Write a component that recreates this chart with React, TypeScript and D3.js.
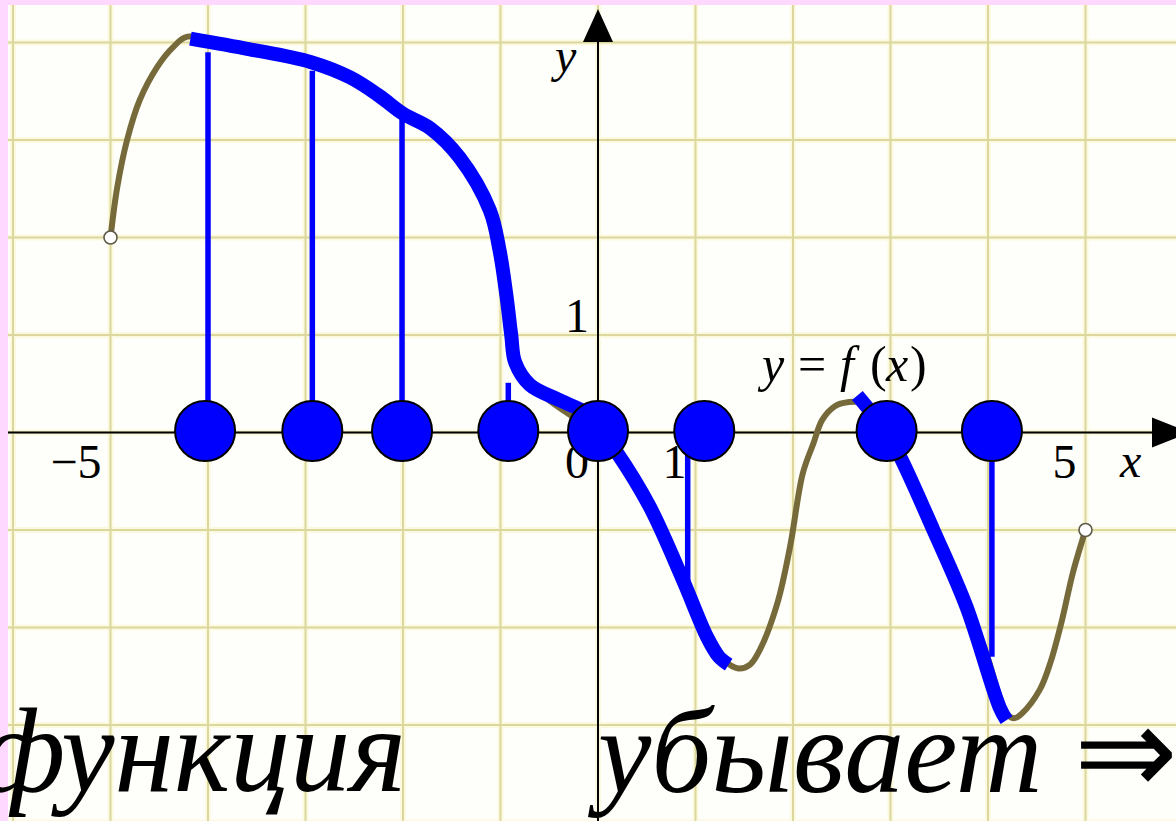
import React from "react";
import * as d3 from "d3";

// graph of y = f(x) (data units)
const curveF: [number, number][] = [
  [-5.0, 2.0], [-4.93, 2.52], [-4.83, 3.0], [-4.7, 3.41], [-4.52, 3.75], [-4.36, 3.95], [-4.21, 4.06],
  [-3.57, 3.93], [-2.95, 3.8], [-2.54, 3.64], [-2.24, 3.45], [-2.0, 3.28], [-1.72, 3.13], [-1.42, 2.82],
  [-1.11, 2.28], [-1.01, 1.87], [-0.94, 1.41], [-0.9, 1.0], [-0.86, 0.79], [-0.75, 0.56], [-0.54, 0.36],
  [-0.24, 0.15], [0, 0], [0.23, -0.26], [0.53, -0.79], [0.89, -1.53], [1.15, -2.1], [1.3, -2.34],
  [1.44, -2.42], [1.56, -2.38], [1.66, -2.23], [1.84, -1.75], [1.97, -1.17], [2.1, -0.42], [2.21, -0.11],
  [2.3, 0.13], [2.43, 0.27], [2.56, 0.31], [2.71, 0.3], [2.96, 0], [3.3, -0.74], [3.61, -1.36],
  [3.97, -2.23], [4.19, -2.88], [4.27, -2.93], [4.35, -2.88], [4.53, -2.64], [4.64, -2.36], [4.76, -1.92],
  [4.87, -1.44], [5.0, -1.0],
];

// decreasing pieces, traced in blue
const decreasing1: [number, number][] = [
  [-4.18, 4.04], [-3.57, 3.93], [-2.95, 3.8], [-2.54, 3.64], [-2.24, 3.45], [-2.0, 3.27], [-1.72, 3.12],
  [-1.42, 2.82], [-1.11, 2.28], [-1.01, 1.87], [-0.94, 1.41], [-0.89, 1.0], [-0.85, 0.72], [-0.7, 0.49],
  [-0.39, 0.33], [-0.13, 0.21], [0, 0.12],
];
const decreasing2: [number, number][] = [
  [0.0, 0.05], [0.19, -0.2], [0.53, -0.76], [0.87, -1.51], [1.12, -2.1], [1.24, -2.3], [1.34, -2.38],
];
const decreasing3: [number, number][] = [
  [2.66, 0.38], [2.96, 0], [3.1, -0.25], [3.44, -1.0], [3.78, -1.79], [4.12, -2.82], [4.19, -2.95],
];

// points on the x axis and the stems from them
const markerXs = [-4.03, -2.93, -2.01, -0.92, 0, 1.09, 2.96, 4.04];
const stems: [number, number, number][] = [
  [-4.0, 0, 3.9],
  [-2.93, 0, 3.71],
  [-2.01, 0, 3.23],
  [-0.92, 0, 0.51],
  [0.92, -0.18, -1.69],
  [4.04, 0, -2.3],
];
const openPoints: [number, number][] = [[-5, 2], [5, -1]];

const gridXs = [-6, -5, -4, -3, -2, -1, 0, 1, 2, 3, 4, 5, 6];
const gridYs = [4, 3, 2, 1, 0, -1, -2, -3, -4];
const xTickLabels = [
  { v: -5, t: "\u22125" },
  { v: 0, t: "0" },
  { v: 1, t: "1" },
  { v: 5, t: "5" },
];
const yTickLabels = [{ v: 1, t: "1" }];
const captionLeft = "функция";
const captionRight = "убывает";
const captionArrow = "\u21D2";

const W = 1176;
const H = 821;

export default function App() {
  React.useEffect(() => {
    document.body.style.margin = "0";
    document.body.style.overflow = "hidden";
  }, []);

  const x = d3.scaleLinear().domain([-5, 5]).range([110.5, 1085.5]);
  const y = d3.scaleLinear().domain([0, 1]).range([432.5, 335]);

  const line = d3
    .line<[number, number]>()
    .x((d) => x(d[0]))
    .y((d) => y(d[1]))
    .curve(d3.curveCatmullRom.alpha(0.5));

  const serif = "'Liberation Serif', 'Times New Roman', serif";
  const x0 = x(0);
  const y0 = y(0);

  return (
    <svg
      width={W}
      height={H}
      style={{ position: "absolute", left: 0, top: 0, display: "block" }}
      fontFamily={serif}
    >
      <rect x={0} y={0} width={W} height={H} fill="#ffd8ff" />
      <rect x={8} y={5} width={W} height={H} fill="#fefefa" />

      {/* grid */}
      <g>
        {gridXs.map((g) => (
          <line key={"gxh" + g} x1={x(g)} x2={x(g)} y1={5} y2={H} stroke="#fbf9e0" strokeWidth={6} />
        ))}
        {gridYs.map((g) => (
          <line key={"gyh" + g} x1={8} x2={W} y1={y(g)} y2={y(g)} stroke="#fbf9e0" strokeWidth={6} />
        ))}
        {gridXs.map((g) => (
          <line key={"gx" + g} x1={x(g)} x2={x(g)} y1={5} y2={H} stroke="#dcd79c" strokeWidth={2} />
        ))}
        {gridYs.map((g) => (
          <line key={"gy" + g} x1={8} x2={W} y1={y(g)} y2={y(g)} stroke="#dcd79c" strokeWidth={2} />
        ))}
      </g>

      {/* axes */}
      <line x1={8} x2={1155} y1={y0} y2={y0} stroke="#000" strokeWidth={2} />
      <path d={`M1152,${y0 - 15} L1190,${y0} L1152,${y0 + 15} Z`} fill="#000" />
      <line x1={x0} x2={x0} y1={40} y2={H} stroke="#000" strokeWidth={2} />
      <path d={`M${x0 - 15},42 L${x0},9 L${x0 + 15},42 Z`} fill="#000" />

      {/* tick labels */}
      <g fontSize={48} fill="#000">
        {xTickLabels.map((t) => (
          <text key={t.t} x={x(t.v) - 9} y={y0 + 45} textAnchor="end">
            {t.t}
          </text>
        ))}
        {yTickLabels.map((t) => (
          <text key={"y" + t.t} x={x0 - 9} y={y(t.v) - 3} textAnchor="end">
            {t.t}
          </text>
        ))}
        <text x={1120} y={y0 + 44} fontStyle="italic">x</text>
        <text x={555} y={72} fontStyle="italic">y</text>
        <text y={381} fontSize={50}>
          <tspan x={762} fontStyle="italic">y</tspan>
          <tspan x={798}>=</tspan>
          <tspan x={840} fontStyle="italic">f</tspan>
          <tspan x={870}>(</tspan>
          <tspan x={886} fontStyle="italic">x</tspan>
          <tspan x={910}>)</tspan>
        </text>
      </g>

      {/* the graph */}
      <path d={line(curveF) || ""} fill="none" stroke="#766a3a" strokeWidth={6} strokeLinejoin="round" />
      {openPoints.map((p, i) => (
        <circle key={"op" + i} cx={x(p[0])} cy={y(p[1])} r={6.5} fill="#fff" stroke="#5e5a48" strokeWidth={1.6} />
      ))}

      {/* stems */}
      {stems.map((s, i) => (
        <line key={"st" + i} x1={x(s[0])} x2={x(s[0])} y1={y(s[1])} y2={y(s[2])} stroke="#0000ff" strokeWidth={5.5} />
      ))}

      {/* decreasing pieces */}
      {[decreasing1, decreasing2, decreasing3].map((seg, i) => (
        <path
          key={"dec" + i}
          d={line(seg) || ""}
          fill="none"
          stroke="#0000ff"
          strokeWidth={14}
          strokeLinejoin="round"
          strokeLinecap="butt"
        />
      ))}

      {/* markers */}
      {markerXs.map((m, i) => (
        <circle key={"m" + i} cx={x(m)} cy={y0 - 1.5} r={30} fill="#0000ff" stroke="#000" strokeWidth={2} />
      ))}

      {/* caption */}
      <g fontSize={120} fontStyle="italic" fill="#000">
        <text x={-20} y={791}>{captionLeft}</text>
        <text x={598} y={792}>{captionRight}</text>
        <text x={1074} y={794} fontStyle="normal" fontSize={124}>{captionArrow}</text>
      </g>
    </svg>
  );
}
